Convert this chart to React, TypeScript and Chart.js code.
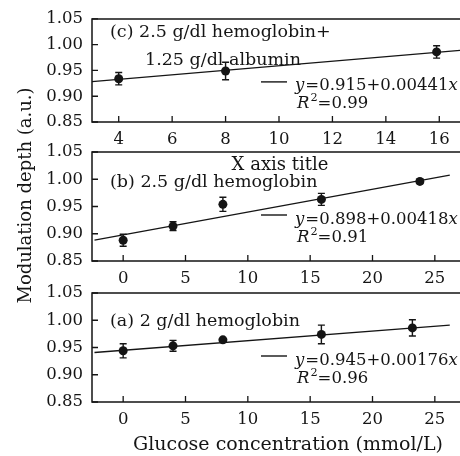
import { useEffect, useRef } from "react";
import { Chart, registerables } from "chart.js";

Chart.register(...registerables);

const FONT_FAMILY = '"DejaVu Serif", "Liberation Serif", serif';
const INK = "#151515";

// Shared y axis (modulation depth, a.u.)
const depthTicks = [0.85, 0.9, 0.95, 1.0, 1.05];

// (c) 2.5 g/dl hemoglobin + 1.25 g/dl albumin
const glucoseC = [4, 8, 15.9];
const depthC = [0.934, 0.949, 0.986];
const errorC = [0.012, 0.017, 0.012];
const fitC = [0.915, 0.00441];
const fitRangeC = [3, 17];
const r2C = "0.99";
const glucoseTicksC = [4, 6, 8, 10, 12, 14, 16];

// (b) 2.5 g/dl hemoglobin
const glucoseB = [0, 4, 8, 15.9, 23.8];
const depthB = [0.888, 0.914, 0.954, 0.963, 0.996];
const errorB = [0.011, 0.008, 0.013, 0.011, 0.004];
const fitB = [0.898, 0.00418];
const fitRangeB = [-2.3, 26.2];
const r2B = "0.91";
const glucoseTicksB = [0, 5, 10, 15, 20, 25];

// (a) 2 g/dl hemoglobin
const glucoseA = [0, 4, 8, 15.9, 23.2];
const depthA = [0.944, 0.953, 0.964, 0.974, 0.986];
const errorA = [0.013, 0.01, 0.002, 0.017, 0.015];
const fitA = [0.945, 0.00176];
const fitRangeA = [-2.3, 26.2];
const r2A = "0.96";
const glucoseTicksA = [0, 5, 10, 15, 20, 25];

const CANVAS_W = 480;
const CANVAS_H = 456;
const PLOT_LEFT = 92;
const PLOT_RIGHT = 466;

const TICK_SIZE = 16.5;
const CAPTION_SIZE = 17.5;
const EQ_SIZE = 16.5;
const TITLE_SIZE = 18;
const X_TITLE_SIZE = 19;

type Label = { text: string; x: number; dy: number; align?: CanvasTextAlign; size?: number };

type Panel = {
  top: number;
  bottom: number;
  xMin: number;
  xMax: number;
  xTicks: number[];
  glucose: number[];
  depth: number[];
  error: number[];
  fit: number[];
  fitRange: number[];
  r2: string;
  labels: Label[];
  axisTitles?: boolean;
};

const panels: Panel[] = [
  {
    top: 14,
    bottom: 122,
    xMin: 3,
    xMax: 17,
    xTicks: glucoseTicksC,
    glucose: glucoseC,
    depth: depthC,
    error: errorC,
    fit: fitC,
    fitRange: fitRangeC,
    r2: r2C,
    labels: [
      { text: "(c) 2.5 g/dl hemoglobin+", x: 110, dy: 18 },
      { text: "1.25 g/dl albumin", x: 145, dy: 46 },
    ],
  },
  {
    top: 152,
    bottom: 261,
    xMin: -2.5,
    xMax: 27.5,
    xTicks: glucoseTicksB,
    glucose: glucoseB,
    depth: depthB,
    error: errorB,
    fit: fitB,
    fitRange: fitRangeB,
    r2: r2B,
    labels: [
      { text: "X axis title", x: 280, dy: 18, align: "center", size: TITLE_SIZE },
      { text: "(b) 2.5 g/dl hemoglobin", x: 110, dy: 34.5 },
    ],
  },
  {
    top: 293,
    bottom: 402,
    xMin: -2.5,
    xMax: 27.5,
    xTicks: glucoseTicksA,
    glucose: glucoseA,
    depth: depthA,
    error: errorA,
    fit: fitA,
    fitRange: fitRangeA,
    r2: r2A,
    labels: [{ text: "(a) 2 g/dl hemoglobin", x: 110, dy: 33 }],
    axisTitles: true,
  },
];

const font = (size: number, italic = false) =>
  `${italic ? "italic " : ""}${size}px ${FONT_FAMILY}`;

// Draws a run of text pieces left to right; each piece may be italic or a superscript.
function drawRun(
  ctx: CanvasRenderingContext2D,
  x: number,
  y: number,
  size: number,
  parts: { t: string; italic?: boolean; sup?: boolean }[]
) {
  let cx = x;
  for (const p of parts) {
    ctx.font = p.sup ? font(size * 0.68) : font(size, p.italic);
    ctx.fillText(p.t, cx, p.sup ? y - 7 : y);
    cx += ctx.measureText(p.t).width + (p.italic ? 1 : 0);
  }
}

function makePanelPlugin(p: Panel) {
  return {
    id: "panelDecor",
    afterDatasetsDraw(chart: any) {
      const ctx: CanvasRenderingContext2D = chart.ctx;
      const xs = chart.scales.x;
      const ys = chart.scales.y;
      const area = chart.chartArea;
      ctx.save();
      ctx.strokeStyle = INK;
      ctx.fillStyle = INK;

      // error bars
      ctx.lineWidth = 1.4;
      p.glucose.forEach((g, i) => {
        const px = xs.getPixelForValue(g);
        const y1 = ys.getPixelForValue(p.depth[i] + p.error[i]);
        const y2 = ys.getPixelForValue(p.depth[i] - p.error[i]);
        ctx.beginPath();
        ctx.moveTo(px, y1);
        ctx.lineTo(px, y2);
        ctx.moveTo(px - 3.5, y1);
        ctx.lineTo(px + 3.5, y1);
        ctx.moveTo(px - 3.5, y2);
        ctx.lineTo(px + 3.5, y2);
        ctx.stroke();
      });

      // frame: left, top, bottom
      ctx.lineWidth = 1.5;
      ctx.beginPath();
      ctx.moveTo(area.right + 10, area.top);
      ctx.lineTo(area.left, area.top);
      ctx.lineTo(area.left, area.bottom);
      ctx.lineTo(area.right + 10, area.bottom);
      ctx.stroke();

      // inward tick marks
      ctx.lineWidth = 1.3;
      ctx.beginPath();
      p.xTicks.forEach((v) => {
        const px = xs.getPixelForValue(v);
        ctx.moveTo(px, area.bottom);
        ctx.lineTo(px, area.bottom - 6);
      });
      depthTicks.forEach((v) => {
        const py = ys.getPixelForValue(v);
        ctx.moveTo(area.left, py);
        ctx.lineTo(area.left + 6, py);
      });
      ctx.stroke();

      // panel captions
      ctx.textBaseline = "alphabetic";
      p.labels.forEach((l) => {
        ctx.font = font(l.size || CAPTION_SIZE);
        ctx.textAlign = l.align || "left";
        ctx.fillText(l.text, l.x, area.top + l.dy);
      });
      ctx.textAlign = "left";

      // fit equation with legend stroke
      const eqY = area.top + 71.5;
      ctx.lineWidth = 1.4;
      ctx.beginPath();
      ctx.moveTo(261, eqY - 8.5);
      ctx.lineTo(287, eqY - 8.5);
      ctx.stroke();
      drawRun(ctx, 295, eqY, EQ_SIZE, [
        { t: "y", italic: true },
        { t: `=${p.fit[0]}+${p.fit[1]}` },
        { t: "x", italic: true },
      ]);
      drawRun(ctx, 297, area.top + 89.5, EQ_SIZE, [
        { t: "R", italic: true },
        { t: "2", sup: true },
        { t: `=${p.r2}` },
      ]);

      if (p.axisTitles) {
        ctx.textAlign = "center";
        ctx.font = font(X_TITLE_SIZE);
        ctx.fillText("Glucose concentration (mmol/L)", 288, 450);
        ctx.font = font(TITLE_SIZE);
        ctx.save();
        ctx.translate(31, 195.5);
        ctx.rotate(-Math.PI / 2);
        ctx.fillText("Modulation depth (a.u.)", 0, 0);
        ctx.restore();
      }
      ctx.restore();
    },
  };
}

function PanelChart({ panel }: { panel: Panel }) {
  const ref = useRef<HTMLCanvasElement | null>(null);
  useEffect(() => {
    if (!ref.current) return;
    const p = panel;
    const points = p.glucose.map((g, i) => ({ x: g, y: p.depth[i] }));
    const fitPoints = p.fitRange.map((g) => ({ x: g, y: p.fit[0] + p.fit[1] * g }));
    const chart = new Chart(ref.current, {
      type: "scatter",
      data: {
        datasets: [
          {
            data: fitPoints,
            showLine: true,
            pointRadius: 0,
            borderColor: INK,
            borderWidth: 1.4,
          },
          {
            data: points,
            showLine: false,
            pointRadius: 4.5,
            pointBackgroundColor: INK,
            pointBorderColor: INK,
            pointBorderWidth: 0,
          },
        ],
      },
      options: {
        responsive: false,
        animation: false,
        devicePixelRatio: 1,
        layout: {
          padding: { top: p.top, left: 0, right: CANVAS_W - PLOT_RIGHT, bottom: 0 },
        },
        plugins: { legend: { display: false }, tooltip: { enabled: false } },
        scales: {
          x: {
            type: "linear",
            min: p.xMin,
            max: p.xMax,
            grid: { display: false, drawTicks: false },
            border: { display: false },
            afterBuildTicks: (s: any) => {
              s.ticks = p.xTicks.map((v) => ({ value: v }));
            },
            afterFit: (s: any) => {
              s.height = CANVAS_H - p.bottom;
            },
            ticks: {
              color: INK,
              font: { family: FONT_FAMILY, size: TICK_SIZE },
              padding: 8,
              maxRotation: 0,
              autoSkip: false,
              callback: (v: any) => String(v),
            },
          },
          y: {
            type: "linear",
            min: 0.85,
            max: 1.05,
            grid: { display: false, drawTicks: false },
            border: { display: false },
            afterBuildTicks: (s: any) => {
              s.ticks = depthTicks.map((v) => ({ value: v }));
            },
            afterFit: (s: any) => {
              s.width = PLOT_LEFT;
            },
            ticks: {
              color: INK,
              font: { family: FONT_FAMILY, size: TICK_SIZE },
              padding: 9,
              callback: (v: any) => Number(v).toFixed(2),
            },
          },
        },
      },
      plugins: [makePanelPlugin(p)],
    });
    return () => chart.destroy();
  }, [panel]);
  return (
    <canvas
      ref={ref}
      width={CANVAS_W}
      height={CANVAS_H}
      style={{ position: "absolute", left: 0, top: 0, width: CANVAS_W, height: CANVAS_H }}
    />
  );
}

export default function App() {
  return (
    <div
      style={{
        position: "fixed",
        left: 0,
        top: 0,
        width: 460,
        height: 456,
        overflow: "hidden",
        background: "#fff",
      }}
    >
      {panels.map((p, i) => (
        <PanelChart key={i} panel={p} />
      ))}
    </div>
  );
}
